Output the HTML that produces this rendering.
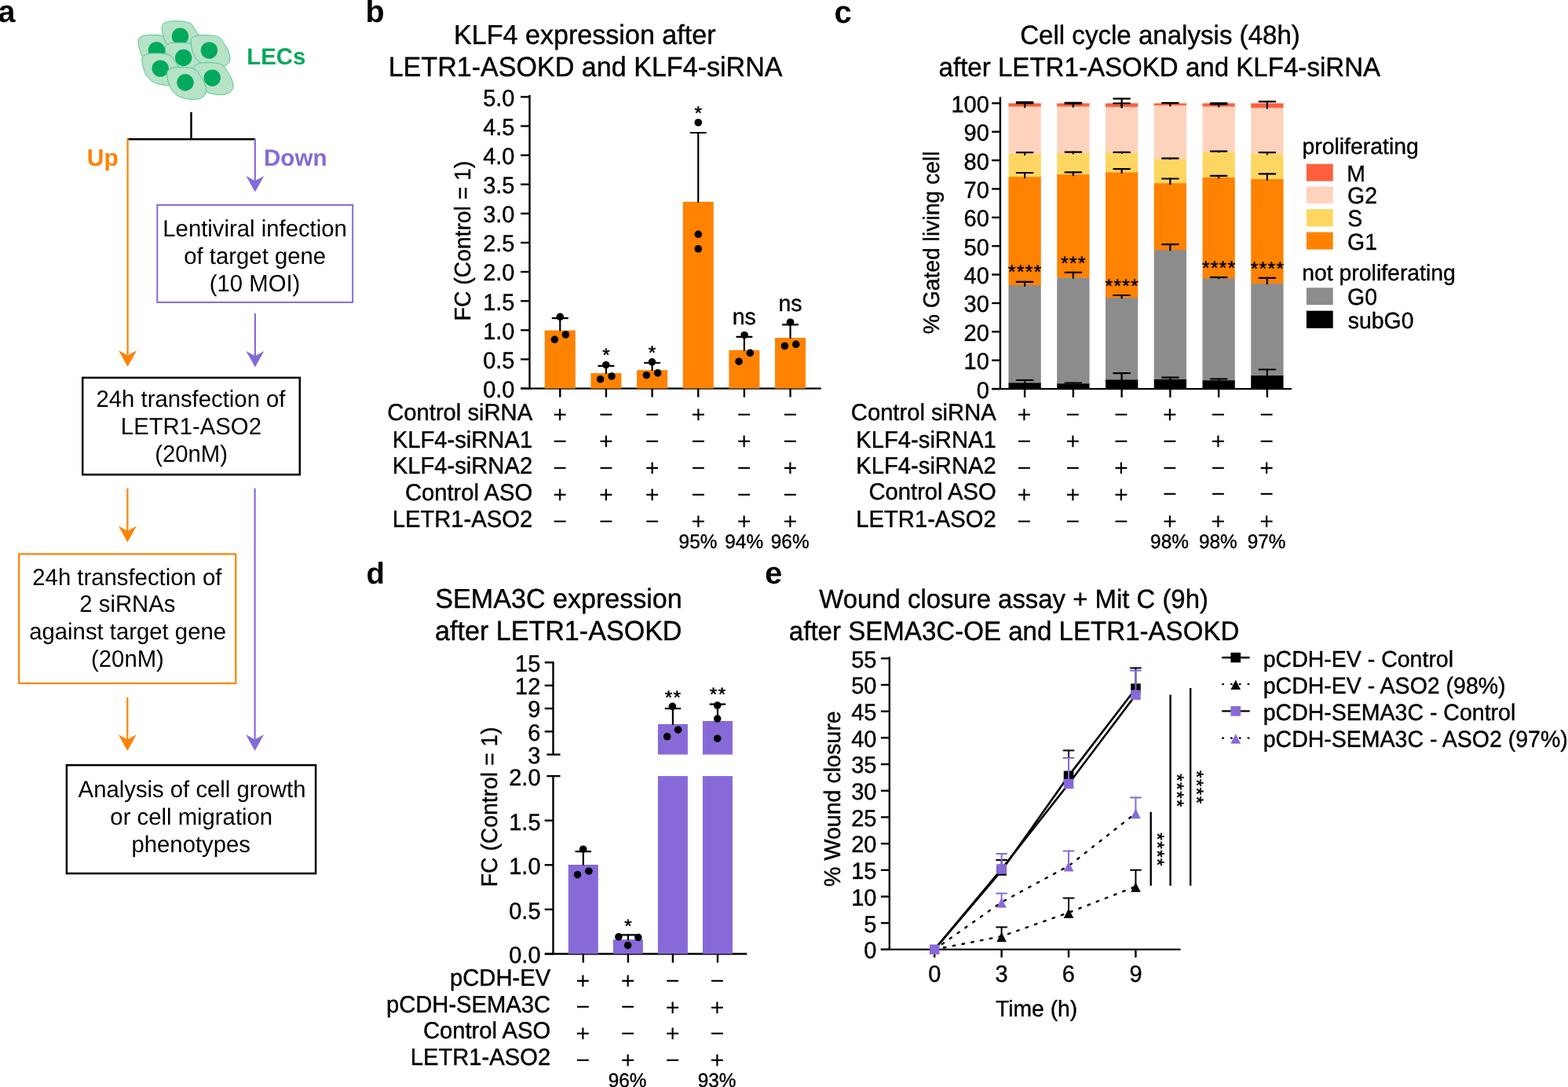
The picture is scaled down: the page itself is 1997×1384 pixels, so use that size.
<!DOCTYPE html>
<html><head><meta charset="utf-8"><title>Figure</title>
<style>html,body{margin:0;padding:0;background:#fff;width:1997px;height:1384px;overflow:hidden}svg{display:block}</style></head>
<body>
<svg xmlns="http://www.w3.org/2000/svg" width="1997" height="1384" viewBox="0 0 1997 1384" font-family='"Liberation Sans", Arial, Helvetica, sans-serif' text-rendering="geometricPrecision">
<style>text{stroke:#000;stroke-width:0.4px}text.st{stroke-width:0.5px}text[font-weight=bold],text.na{stroke-width:0}</style>
<rect width="1997" height="1384" fill="#fff"/>
<text x="-2.45" y="28" font-size="39.5" font-weight="bold">a</text>
<text x="465.6" y="28" font-size="39.5" font-weight="bold">b</text>
<text x="1062.5" y="28.5" font-size="40" font-weight="bold">c</text>
<text x="466.5" y="743" font-size="38.3" font-weight="bold">d</text>
<text x="974.2" y="743.3" font-size="39.5" font-weight="bold">e</text>
<g transform="translate(199.4 63.9)"><path d="M-22 -15.6 C-21 -16.7 -19.4 -17.5 -17.5 -18.1 C-15.6 -18.7 -13.9 -19.2 -10.3 -19.3 C-6.7 -19.4 0 -19.5 4 -18.9 C8 -18.3 11.1 -17.5 13.5 -15.9 C15.9 -14.3 16.6 -12 18.3 -9.5 C20 -7 22.4 -3.8 23.8 -0.8 C25.2 2.2 26.3 6 26.6 8.7 C26.9 11.3 26.2 13.4 25.4 15.1 C24.5 16.8 23.5 18 21.5 19.1 C19.5 20.2 16.8 21.2 13.5 21.5 C10.2 21.8 5.3 21.4 1.6 20.7 C-2.1 20 -5.6 19.2 -8.7 17.5 C-11.8 15.8 -14.7 12.8 -16.7 10.3 C-18.7 7.8 -19.7 5 -20.7 2.4 C-21.7 -0.2 -22.3 -3.3 -22.7 -5.6 C-23.1 -7.9 -23.4 -9.8 -23.3 -11.5 C-23.2 -13.2 -23 -14.5 -22 -15.6 Z" fill="#b6e3c8" stroke="#45c083" stroke-width="0.9"/><circle cx="0" cy="0" r="10.7" fill="#00a95c"/></g>
<g transform="translate(229.5 46.2)"><path d="M-22 -15.6 C-21 -16.7 -19.4 -17.5 -17.5 -18.1 C-15.6 -18.7 -13.9 -19.2 -10.3 -19.3 C-6.7 -19.4 0 -19.5 4 -18.9 C8 -18.3 11.1 -17.5 13.5 -15.9 C15.9 -14.3 16.6 -12 18.3 -9.5 C20 -7 22.4 -3.8 23.8 -0.8 C25.2 2.2 26.3 6 26.6 8.7 C26.9 11.3 26.2 13.4 25.4 15.1 C24.5 16.8 23.5 18 21.5 19.1 C19.5 20.2 16.8 21.2 13.5 21.5 C10.2 21.8 5.3 21.4 1.6 20.7 C-2.1 20 -5.6 19.2 -8.7 17.5 C-11.8 15.8 -14.7 12.8 -16.7 10.3 C-18.7 7.8 -19.7 5 -20.7 2.4 C-21.7 -0.2 -22.3 -3.3 -22.7 -5.6 C-23.1 -7.9 -23.4 -9.8 -23.3 -11.5 C-23.2 -13.2 -23 -14.5 -22 -15.6 Z" fill="#b6e3c8" stroke="#45c083" stroke-width="0.9"/><circle cx="0" cy="0" r="10.7" fill="#00a95c"/></g>
<g transform="translate(233.7 73.5)"><path d="M-22 -15.6 C-21 -16.7 -19.4 -17.5 -17.5 -18.1 C-15.6 -18.7 -13.9 -19.2 -10.3 -19.3 C-6.7 -19.4 0 -19.5 4 -18.9 C8 -18.3 11.1 -17.5 13.5 -15.9 C15.9 -14.3 16.6 -12 18.3 -9.5 C20 -7 22.4 -3.8 23.8 -0.8 C25.2 2.2 26.3 6 26.6 8.7 C26.9 11.3 26.2 13.4 25.4 15.1 C24.5 16.8 23.5 18 21.5 19.1 C19.5 20.2 16.8 21.2 13.5 21.5 C10.2 21.8 5.3 21.4 1.6 20.7 C-2.1 20 -5.6 19.2 -8.7 17.5 C-11.8 15.8 -14.7 12.8 -16.7 10.3 C-18.7 7.8 -19.7 5 -20.7 2.4 C-21.7 -0.2 -22.3 -3.3 -22.7 -5.6 C-23.1 -7.9 -23.4 -9.8 -23.3 -11.5 C-23.2 -13.2 -23 -14.5 -22 -15.6 Z" fill="#b6e3c8" stroke="#45c083" stroke-width="0.9"/><circle cx="0" cy="0" r="10.7" fill="#00a95c"/></g>
<g transform="translate(266.4 64.1)"><path d="M-22 -15.6 C-21 -16.7 -19.4 -17.5 -17.5 -18.1 C-15.6 -18.7 -13.9 -19.2 -10.3 -19.3 C-6.7 -19.4 0 -19.5 4 -18.9 C8 -18.3 11.1 -17.5 13.5 -15.9 C15.9 -14.3 16.6 -12 18.3 -9.5 C20 -7 22.4 -3.8 23.8 -0.8 C25.2 2.2 26.3 6 26.6 8.7 C26.9 11.3 26.2 13.4 25.4 15.1 C24.5 16.8 23.5 18 21.5 19.1 C19.5 20.2 16.8 21.2 13.5 21.5 C10.2 21.8 5.3 21.4 1.6 20.7 C-2.1 20 -5.6 19.2 -8.7 17.5 C-11.8 15.8 -14.7 12.8 -16.7 10.3 C-18.7 7.8 -19.7 5 -20.7 2.4 C-21.7 -0.2 -22.3 -3.3 -22.7 -5.6 C-23.1 -7.9 -23.4 -9.8 -23.3 -11.5 C-23.2 -13.2 -23 -14.5 -22 -15.6 Z" fill="#b6e3c8" stroke="#45c083" stroke-width="0.9"/><circle cx="0" cy="0" r="10.7" fill="#00a95c"/></g>
<g transform="translate(204.2 87.1)"><path d="M-22 -15.6 C-21 -16.7 -19.4 -17.5 -17.5 -18.1 C-15.6 -18.7 -13.9 -19.2 -10.3 -19.3 C-6.7 -19.4 0 -19.5 4 -18.9 C8 -18.3 11.1 -17.5 13.5 -15.9 C15.9 -14.3 16.6 -12 18.3 -9.5 C20 -7 22.4 -3.8 23.8 -0.8 C25.2 2.2 26.3 6 26.6 8.7 C26.9 11.3 26.2 13.4 25.4 15.1 C24.5 16.8 23.5 18 21.5 19.1 C19.5 20.2 16.8 21.2 13.5 21.5 C10.2 21.8 5.3 21.4 1.6 20.7 C-2.1 20 -5.6 19.2 -8.7 17.5 C-11.8 15.8 -14.7 12.8 -16.7 10.3 C-18.7 7.8 -19.7 5 -20.7 2.4 C-21.7 -0.2 -22.3 -3.3 -22.7 -5.6 C-23.1 -7.9 -23.4 -9.8 -23.3 -11.5 C-23.2 -13.2 -23 -14.5 -22 -15.6 Z" fill="#b6e3c8" stroke="#45c083" stroke-width="0.9"/><circle cx="0" cy="0" r="10.7" fill="#00a95c"/></g>
<g transform="translate(270.3 99.1)"><path d="M-22 -15.6 C-21 -16.7 -19.4 -17.5 -17.5 -18.1 C-15.6 -18.7 -13.9 -19.2 -10.3 -19.3 C-6.7 -19.4 0 -19.5 4 -18.9 C8 -18.3 11.1 -17.5 13.5 -15.9 C15.9 -14.3 16.6 -12 18.3 -9.5 C20 -7 22.4 -3.8 23.8 -0.8 C25.2 2.2 26.3 6 26.6 8.7 C26.9 11.3 26.2 13.4 25.4 15.1 C24.5 16.8 23.5 18 21.5 19.1 C19.5 20.2 16.8 21.2 13.5 21.5 C10.2 21.8 5.3 21.4 1.6 20.7 C-2.1 20 -5.6 19.2 -8.7 17.5 C-11.8 15.8 -14.7 12.8 -16.7 10.3 C-18.7 7.8 -19.7 5 -20.7 2.4 C-21.7 -0.2 -22.3 -3.3 -22.7 -5.6 C-23.1 -7.9 -23.4 -9.8 -23.3 -11.5 C-23.2 -13.2 -23 -14.5 -22 -15.6 Z" fill="#b6e3c8" stroke="#45c083" stroke-width="0.9"/><circle cx="0" cy="0" r="10.7" fill="#00a95c"/></g>
<g transform="translate(236 105)"><path d="M-22 -15.6 C-21 -16.7 -19.4 -17.5 -17.5 -18.1 C-15.6 -18.7 -13.9 -19.2 -10.3 -19.3 C-6.7 -19.4 0 -19.5 4 -18.9 C8 -18.3 11.1 -17.5 13.5 -15.9 C15.9 -14.3 16.6 -12 18.3 -9.5 C20 -7 22.4 -3.8 23.8 -0.8 C25.2 2.2 26.3 6 26.6 8.7 C26.9 11.3 26.2 13.4 25.4 15.1 C24.5 16.8 23.5 18 21.5 19.1 C19.5 20.2 16.8 21.2 13.5 21.5 C10.2 21.8 5.3 21.4 1.6 20.7 C-2.1 20 -5.6 19.2 -8.7 17.5 C-11.8 15.8 -14.7 12.8 -16.7 10.3 C-18.7 7.8 -19.7 5 -20.7 2.4 C-21.7 -0.2 -22.3 -3.3 -22.7 -5.6 C-23.1 -7.9 -23.4 -9.8 -23.3 -11.5 C-23.2 -13.2 -23 -14.5 -22 -15.6 Z" fill="#b6e3c8" stroke="#45c083" stroke-width="0.9"/><circle cx="0" cy="0" r="10.7" fill="#00a95c"/></g>
<text transform="translate(314.3 82.3) scale(1 1.01)" font-size="29.3" font-weight="bold" fill="#00a95c" style="stroke:#00a95c">LECs</text>
<line x1="243.5" y1="142.7" x2="243.5" y2="177.3" stroke="#000" stroke-width="2.5"/>
<line x1="162.2" y1="177.3" x2="324.8" y2="177.3" stroke="#000" stroke-width="2.5"/>
<line x1="162.6" y1="176.2" x2="162.6" y2="452" stroke="#ff8200" stroke-width="2.2"/>
<path d="M162.6 466.9 L151.1 446.2 L162.6 452.5 L174.1 446.2 Z" fill="#ff8200"/>
<line x1="324.8" y1="176.2" x2="324.8" y2="232" stroke="#876ad8" stroke-width="2.2"/>
<path d="M324.8 244.6 L313.3 223.9 L324.8 230.2 L336.3 223.9 Z" fill="#876ad8"/>
<text transform="translate(110.85 211.2) scale(1 1.01)" font-size="30" font-weight="bold" fill="#ff8200" style="stroke:#ff8200">Up</text>
<text transform="translate(336 211.2) scale(1 1.01)" font-size="29.6" font-weight="bold" fill="#876ad8" style="stroke:#876ad8">Down</text>
<rect x="200.3" y="261" width="248.9" height="123.9" fill="none" stroke="#876ad8" stroke-width="2"/>
<text transform="translate(207.3 300.7) scale(1 1.02)" font-size="29.3" class="na">Lentiviral infection</text>
<text transform="translate(234.3 335.6) scale(1 1.01)" font-size="29.3" class="na">of target gene</text>
<text transform="translate(266.8 370.5) scale(1 1.03)" font-size="29.3" class="na">(10 MOI)</text>
<line x1="324.9" y1="399" x2="324.9" y2="455" stroke="#876ad8" stroke-width="2.2"/>
<path d="M324.9 467.6 L313.4 446.9 L324.9 453.2 L336.4 446.9 Z" fill="#876ad8"/>
<rect x="105.2" y="480.9" width="276.6" height="123.4" fill="none" stroke="#000" stroke-width="2.5"/>
<text transform="translate(122.47 517.9) scale(1 1.02)" font-size="29.3" class="na">24h transfection of</text>
<text transform="translate(153.85 552.7) scale(1 1.03)" font-size="29.3" class="na">LETR1-ASO2</text>
<text transform="translate(197.22 588.1) scale(1 1.03)" font-size="29.3" class="na">(20nM)</text>
<line x1="162.4" y1="621.7" x2="162.4" y2="678" stroke="#ff8200" stroke-width="2.2"/>
<path d="M162.4 690.5 L150.9 669.8 L162.4 676.1 L173.9 669.8 Z" fill="#ff8200"/>
<line x1="324.6" y1="621.7" x2="324.6" y2="944" stroke="#876ad8" stroke-width="2.2"/>
<path d="M324.6 956 L313.1 935.3 L324.6 941.6 L336.1 935.3 Z" fill="#876ad8"/>
<rect x="24.2" y="705.4" width="276.1" height="164.6" fill="none" stroke="#ff8200" stroke-width="2.2"/>
<text transform="translate(41.32 744.6) scale(1 1.02)" font-size="29.3" class="na">24h transfection of</text>
<text transform="translate(101.32 779.4) scale(1 1.03)" font-size="29.3" class="na">2 siRNAs</text>
<text transform="translate(37.2 813.8) scale(1 1.01)" font-size="29.3" class="na">against target gene</text>
<text transform="translate(116.07 848.8) scale(1 1.03)" font-size="29.3" class="na">(20nM)</text>
<line x1="162.3" y1="887.9" x2="162.3" y2="944" stroke="#ff8200" stroke-width="2.2"/>
<path d="M162.3 956 L150.8 935.3 L162.3 941.6 L173.8 935.3 Z" fill="#ff8200"/>
<rect x="84.9" y="974.2" width="317.2" height="137.9" fill="none" stroke="#000" stroke-width="2.5"/>
<text transform="translate(99.6 1014.8) scale(1 1.02)" font-size="29.3" class="na">Analysis of cell growth</text>
<text transform="translate(140.35 1049.9) scale(1 1.01)" font-size="29.3" class="na">or cell migration</text>
<text transform="translate(167.47 1084.6) scale(1 1.01)" font-size="29.3" class="na">phenotypes</text>
<text transform="translate(578.12 55.85) scale(1 1.02)" font-size="34.1">KLF4 expression after</text>
<text transform="translate(494.67 96.95) scale(1 1.03)" font-size="34.1">LETR1-ASOKD and KLF4-siRNA</text>
<line x1="674.5" y1="121.1" x2="674.5" y2="495.63" stroke="#000" stroke-width="2.4"/>
<line x1="663.4" y1="494.63" x2="1045.8" y2="494.63" stroke="#000" stroke-width="2.4"/>
<line x1="663.1" y1="494.63" x2="674.5" y2="494.63" stroke="#000" stroke-width="2.4"/>
<text transform="translate(655.46 505.93) scale(1 1.03)" font-size="29" text-anchor="end">0.0</text>
<line x1="663.1" y1="457.5" x2="674.5" y2="457.5" stroke="#000" stroke-width="2.4"/>
<text transform="translate(655.46 468.81) scale(1 1.03)" font-size="29" text-anchor="end">0.5</text>
<line x1="663.1" y1="420.38" x2="674.5" y2="420.38" stroke="#000" stroke-width="2.4"/>
<text transform="translate(655.46 431.68) scale(1 1.03)" font-size="29" text-anchor="end">1.0</text>
<line x1="663.1" y1="383.25" x2="674.5" y2="383.25" stroke="#000" stroke-width="2.4"/>
<text transform="translate(655.46 394.56) scale(1 1.03)" font-size="29" text-anchor="end">1.5</text>
<line x1="663.1" y1="346.13" x2="674.5" y2="346.13" stroke="#000" stroke-width="2.4"/>
<text transform="translate(655.46 357.43) scale(1 1.03)" font-size="29" text-anchor="end">2.0</text>
<line x1="663.1" y1="309" x2="674.5" y2="309" stroke="#000" stroke-width="2.4"/>
<text transform="translate(655.46 320.31) scale(1 1.03)" font-size="29" text-anchor="end">2.5</text>
<line x1="663.1" y1="271.88" x2="674.5" y2="271.88" stroke="#000" stroke-width="2.4"/>
<text transform="translate(655.46 283.18) scale(1 1.03)" font-size="29" text-anchor="end">3.0</text>
<line x1="663.1" y1="234.75" x2="674.5" y2="234.75" stroke="#000" stroke-width="2.4"/>
<text transform="translate(655.46 246.06) scale(1 1.03)" font-size="29" text-anchor="end">3.5</text>
<line x1="663.1" y1="197.63" x2="674.5" y2="197.63" stroke="#000" stroke-width="2.4"/>
<text transform="translate(655.46 208.93) scale(1 1.03)" font-size="29" text-anchor="end">4.0</text>
<line x1="663.1" y1="160.5" x2="674.5" y2="160.5" stroke="#000" stroke-width="2.4"/>
<text transform="translate(655.46 171.81) scale(1 1.03)" font-size="29" text-anchor="end">4.5</text>
<line x1="663.1" y1="123.38" x2="674.5" y2="123.38" stroke="#000" stroke-width="2.4"/>
<text transform="translate(655.46 134.68) scale(1 1.03)" font-size="29" text-anchor="end">5.0</text>
<text transform="translate(599.1 408.4) rotate(-90) scale(1 1.02)" x="0" y="0" font-size="28.3">FC (Control = 1)</text>
<rect x="693.8" y="420.6" width="39" height="74.03" fill="#ff8200"/>
<line x1="713.3" y1="494.63" x2="713.3" y2="505.7" stroke="#000" stroke-width="2.4"/>
<rect x="752.45" y="475.1" width="39" height="19.53" fill="#ff8200"/>
<line x1="771.95" y1="494.63" x2="771.95" y2="505.7" stroke="#000" stroke-width="2.4"/>
<rect x="811.1" y="471.2" width="39" height="23.43" fill="#ff8200"/>
<line x1="830.6" y1="494.63" x2="830.6" y2="505.7" stroke="#000" stroke-width="2.4"/>
<rect x="869.75" y="257" width="39" height="237.63" fill="#ff8200"/>
<line x1="889.25" y1="494.63" x2="889.25" y2="505.7" stroke="#000" stroke-width="2.4"/>
<rect x="928.4" y="445.8" width="39" height="48.83" fill="#ff8200"/>
<line x1="947.9" y1="494.63" x2="947.9" y2="505.7" stroke="#000" stroke-width="2.4"/>
<rect x="987.05" y="430.1" width="39" height="64.53" fill="#ff8200"/>
<line x1="1006.55" y1="494.63" x2="1006.55" y2="505.7" stroke="#000" stroke-width="2.4"/>
<line x1="713.3" y1="420.6" x2="713.3" y2="405.2" stroke="#000" stroke-width="2.2" stroke-linecap="round"/>
<line x1="703.7" y1="405.2" x2="722.9" y2="405.2" stroke="#000" stroke-width="2.2" stroke-linecap="round"/>
<line x1="771.95" y1="475.1" x2="771.95" y2="465.9" stroke="#000" stroke-width="2.2" stroke-linecap="round"/>
<line x1="762.35" y1="465.9" x2="781.55" y2="465.9" stroke="#000" stroke-width="2.2" stroke-linecap="round"/>
<line x1="830.6" y1="471.2" x2="830.6" y2="462" stroke="#000" stroke-width="2.2" stroke-linecap="round"/>
<line x1="821" y1="462" x2="840.2" y2="462" stroke="#000" stroke-width="2.2" stroke-linecap="round"/>
<line x1="889.25" y1="257" x2="889.25" y2="169" stroke="#000" stroke-width="2.2" stroke-linecap="round"/>
<line x1="879.65" y1="169" x2="898.85" y2="169" stroke="#000" stroke-width="2.2" stroke-linecap="round"/>
<line x1="947.9" y1="445.8" x2="947.9" y2="428.8" stroke="#000" stroke-width="2.2" stroke-linecap="round"/>
<line x1="938.3" y1="428.8" x2="957.5" y2="428.8" stroke="#000" stroke-width="2.2" stroke-linecap="round"/>
<line x1="1006.55" y1="430.1" x2="1006.55" y2="413.3" stroke="#000" stroke-width="2.2" stroke-linecap="round"/>
<line x1="996.95" y1="413.3" x2="1016.15" y2="413.3" stroke="#000" stroke-width="2.2" stroke-linecap="round"/>
<circle cx="713.3" cy="403.3" r="4.8" fill="#000"/>
<circle cx="706.4" cy="432.3" r="4.8" fill="#000"/>
<circle cx="720.4" cy="426" r="4.8" fill="#000"/>
<circle cx="771.8" cy="464.7" r="4.8" fill="#000"/>
<circle cx="764.7" cy="482.8" r="4.8" fill="#000"/>
<circle cx="779" cy="479" r="4.8" fill="#000"/>
<circle cx="830.5" cy="460.9" r="4.8" fill="#000"/>
<circle cx="823.4" cy="477.7" r="4.8" fill="#000"/>
<circle cx="837.7" cy="474.9" r="4.8" fill="#000"/>
<circle cx="889.3" cy="156" r="4.8" fill="#000"/>
<circle cx="889.3" cy="298.3" r="4.8" fill="#000"/>
<circle cx="889.3" cy="316.8" r="4.8" fill="#000"/>
<circle cx="948.1" cy="426.7" r="4.8" fill="#000"/>
<circle cx="941.1" cy="460.2" r="4.8" fill="#000"/>
<circle cx="955.3" cy="449.4" r="4.8" fill="#000"/>
<circle cx="1006.5" cy="410.2" r="4.8" fill="#000"/>
<circle cx="999.4" cy="440.5" r="4.8" fill="#000"/>
<circle cx="1013.7" cy="438.4" r="4.8" fill="#000"/>
<text class="st" transform="translate(767.2 460.38) scale(1 0.97)" x="0" y="0" font-size="24.5" letter-spacing="1.37">*</text>
<text class="st" transform="translate(825.85 456.67) scale(1 0.97)" x="0" y="0" font-size="24.5" letter-spacing="1.37">*</text>
<text class="st" transform="translate(884.5 151.88) scale(1 0.97)" x="0" y="0" font-size="24.5" letter-spacing="1.37">*</text>
<text transform="translate(932.7 413.1) scale(1 1.01)" font-size="28.5">ns</text>
<text transform="translate(991.5 396.3) scale(1 1.01)" font-size="28.5">ns</text>
<text transform="translate(678.13 535.4) scale(1 1.02)" font-size="29.2" text-anchor="end">Control siRNA</text>
<text x="704.33" y="538.25" font-size="30.5" class="na">+</text>
<text x="763.02" y="538.12" font-size="30.5" class="na">−</text>
<text x="821.73" y="538.12" font-size="30.5" class="na">−</text>
<text x="880.62" y="538.25" font-size="30.5" class="na">+</text>
<text x="938.73" y="538.12" font-size="30.5" class="na">−</text>
<text x="997.42" y="538.12" font-size="30.5" class="na">−</text>
<text transform="translate(678.13 569.7) scale(1 1.03)" font-size="29.2" text-anchor="end">KLF4-siRNA1</text>
<text x="704.33" y="572.12" font-size="30.5" class="na">−</text>
<text x="763.02" y="572.25" font-size="30.5" class="na">+</text>
<text x="821.73" y="572.12" font-size="30.5" class="na">−</text>
<text x="880.62" y="572.12" font-size="30.5" class="na">−</text>
<text x="938.73" y="572.25" font-size="30.5" class="na">+</text>
<text x="997.42" y="572.12" font-size="30.5" class="na">−</text>
<text transform="translate(678.13 603.1) scale(1 1.03)" font-size="29.2" text-anchor="end">KLF4-siRNA2</text>
<text x="704.33" y="606.23" font-size="30.5" class="na">−</text>
<text x="763.02" y="606.23" font-size="30.5" class="na">−</text>
<text x="821.73" y="606.35" font-size="30.5" class="na">+</text>
<text x="880.62" y="606.23" font-size="30.5" class="na">−</text>
<text x="938.73" y="606.23" font-size="30.5" class="na">−</text>
<text x="997.42" y="606.35" font-size="30.5" class="na">+</text>
<text transform="translate(678.13 636.5) scale(1 1.02)" font-size="29.2" text-anchor="end">Control ASO</text>
<text x="704.33" y="640.25" font-size="30.5" class="na">+</text>
<text x="763.02" y="640.25" font-size="30.5" class="na">+</text>
<text x="821.73" y="640.25" font-size="30.5" class="na">+</text>
<text x="880.62" y="640.12" font-size="30.5" class="na">−</text>
<text x="938.73" y="640.12" font-size="30.5" class="na">−</text>
<text x="997.42" y="640.12" font-size="30.5" class="na">−</text>
<text transform="translate(678.13 670.8) scale(1 1.03)" font-size="29.2" text-anchor="end">LETR1-ASO2</text>
<text x="704.33" y="673.92" font-size="30.5" class="na">−</text>
<text x="763.02" y="673.92" font-size="30.5" class="na">−</text>
<text x="821.73" y="673.92" font-size="30.5" class="na">−</text>
<text x="880.62" y="674.05" font-size="30.5" class="na">+</text>
<text x="938.73" y="674.05" font-size="30.5" class="na">+</text>
<text x="997.42" y="674.05" font-size="30.5" class="na">+</text>
<text transform="translate(864.62 697.5) scale(1 1.03)" font-size="24.4">95%</text>
<text transform="translate(923.27 697.5) scale(1 1.03)" font-size="24.4">94%</text>
<text transform="translate(981.77 697.5) scale(1 1.03)" font-size="24.4">96%</text>
<text transform="translate(1299.2 55.9) scale(1 1.02)" font-size="33.1">Cell cycle analysis (48h)</text>
<text transform="translate(1195.58 97) scale(1 1.03)" font-size="33.1">after LETR1-ASOKD and KLF4-siRNA</text>
<line x1="1273.9" y1="123.6" x2="1273.9" y2="496.1" stroke="#000" stroke-width="2.4"/>
<line x1="1263" y1="495.1" x2="1645" y2="495.1" stroke="#000" stroke-width="2.4"/>
<line x1="1263.2" y1="495.1" x2="1273.9" y2="495.1" stroke="#000" stroke-width="2.4"/>
<text transform="translate(1259.84 506.5) scale(1 1.03)" font-size="29" text-anchor="end">0</text>
<line x1="1263.2" y1="458.73" x2="1273.9" y2="458.73" stroke="#000" stroke-width="2.4"/>
<text transform="translate(1259.84 470.13) scale(1 1.03)" font-size="29" text-anchor="end">10</text>
<line x1="1263.2" y1="422.36" x2="1273.9" y2="422.36" stroke="#000" stroke-width="2.4"/>
<text transform="translate(1259.84 433.76) scale(1 1.03)" font-size="29" text-anchor="end">20</text>
<line x1="1263.2" y1="385.99" x2="1273.9" y2="385.99" stroke="#000" stroke-width="2.4"/>
<text transform="translate(1259.84 397.39) scale(1 1.03)" font-size="29" text-anchor="end">30</text>
<line x1="1263.2" y1="349.62" x2="1273.9" y2="349.62" stroke="#000" stroke-width="2.4"/>
<text transform="translate(1259.84 361.02) scale(1 1.03)" font-size="29" text-anchor="end">40</text>
<line x1="1263.2" y1="313.25" x2="1273.9" y2="313.25" stroke="#000" stroke-width="2.4"/>
<text transform="translate(1259.84 324.65) scale(1 1.03)" font-size="29" text-anchor="end">50</text>
<line x1="1263.2" y1="276.88" x2="1273.9" y2="276.88" stroke="#000" stroke-width="2.4"/>
<text transform="translate(1259.84 288.28) scale(1 1.03)" font-size="29" text-anchor="end">60</text>
<line x1="1263.2" y1="240.51" x2="1273.9" y2="240.51" stroke="#000" stroke-width="2.4"/>
<text transform="translate(1259.84 251.91) scale(1 1.03)" font-size="29" text-anchor="end">70</text>
<line x1="1263.2" y1="204.14" x2="1273.9" y2="204.14" stroke="#000" stroke-width="2.4"/>
<text transform="translate(1259.84 215.54) scale(1 1.03)" font-size="29" text-anchor="end">80</text>
<line x1="1263.2" y1="167.77" x2="1273.9" y2="167.77" stroke="#000" stroke-width="2.4"/>
<text transform="translate(1259.84 179.17) scale(1 1.03)" font-size="29" text-anchor="end">90</text>
<line x1="1263.2" y1="131.4" x2="1273.9" y2="131.4" stroke="#000" stroke-width="2.4"/>
<text transform="translate(1259.84 142.8) scale(1 1.03)" font-size="29" text-anchor="end">100</text>
<text transform="translate(1195.8 425.35) rotate(-90) scale(1 1.02)" x="0" y="0" font-size="28.3">% Gated living cell</text>
<rect x="1284.45" y="487.1" width="41.3" height="8.3" fill="#000"/>
<rect x="1284.45" y="363" width="41.3" height="124.4" fill="#8c8c8c"/>
<rect x="1284.45" y="224.9" width="41.3" height="138.4" fill="#ff8200"/>
<rect x="1284.45" y="195.6" width="41.3" height="29.6" fill="#fdd662"/>
<rect x="1284.45" y="135.4" width="41.3" height="60.5" fill="#fed3bd"/>
<rect x="1284.45" y="131.5" width="41.3" height="4.2" fill="#ff5f3c"/>
<line x1="1305.1" y1="495.1" x2="1305.1" y2="506" stroke="#000" stroke-width="2.4"/>
<rect x="1346.21" y="488.1" width="41.3" height="7.3" fill="#000"/>
<rect x="1346.21" y="353.2" width="41.3" height="135.2" fill="#8c8c8c"/>
<rect x="1346.21" y="221.9" width="41.3" height="131.6" fill="#ff8200"/>
<rect x="1346.21" y="194.7" width="41.3" height="27.5" fill="#fdd662"/>
<rect x="1346.21" y="135.4" width="41.3" height="59.6" fill="#fed3bd"/>
<rect x="1346.21" y="131.5" width="41.3" height="4.2" fill="#ff5f3c"/>
<line x1="1366.86" y1="495.1" x2="1366.86" y2="506" stroke="#000" stroke-width="2.4"/>
<rect x="1407.97" y="483.1" width="41.3" height="12.3" fill="#000"/>
<rect x="1407.97" y="378.7" width="41.3" height="104.7" fill="#8c8c8c"/>
<rect x="1407.97" y="219.1" width="41.3" height="159.9" fill="#ff8200"/>
<rect x="1407.97" y="194.1" width="41.3" height="25.3" fill="#fdd662"/>
<rect x="1407.97" y="135.9" width="41.3" height="58.5" fill="#fed3bd"/>
<rect x="1407.97" y="131.5" width="41.3" height="4.7" fill="#ff5f3c"/>
<line x1="1428.62" y1="495.1" x2="1428.62" y2="506" stroke="#000" stroke-width="2.4"/>
<rect x="1469.73" y="482.5" width="41.3" height="12.9" fill="#000"/>
<rect x="1469.73" y="318" width="41.3" height="164.8" fill="#8c8c8c"/>
<rect x="1469.73" y="233" width="41.3" height="85.3" fill="#ff8200"/>
<rect x="1469.73" y="202.1" width="41.3" height="31.2" fill="#fdd662"/>
<rect x="1469.73" y="133.9" width="41.3" height="68.5" fill="#fed3bd"/>
<rect x="1469.73" y="131.5" width="41.3" height="2.7" fill="#ff5f3c"/>
<line x1="1490.38" y1="495.1" x2="1490.38" y2="506" stroke="#000" stroke-width="2.4"/>
<rect x="1531.49" y="484" width="41.3" height="11.4" fill="#000"/>
<rect x="1531.49" y="354.1" width="41.3" height="130.2" fill="#8c8c8c"/>
<rect x="1531.49" y="225.4" width="41.3" height="129" fill="#ff8200"/>
<rect x="1531.49" y="193.2" width="41.3" height="32.5" fill="#fdd662"/>
<rect x="1531.49" y="135.4" width="41.3" height="58.1" fill="#fed3bd"/>
<rect x="1531.49" y="131.5" width="41.3" height="4.2" fill="#ff5f3c"/>
<line x1="1552.14" y1="495.1" x2="1552.14" y2="506" stroke="#000" stroke-width="2.4"/>
<rect x="1593.25" y="477.9" width="41.3" height="17.5" fill="#000"/>
<rect x="1593.25" y="360.6" width="41.3" height="117.6" fill="#8c8c8c"/>
<rect x="1593.25" y="227.8" width="41.3" height="133.1" fill="#ff8200"/>
<rect x="1593.25" y="195.4" width="41.3" height="32.7" fill="#fdd662"/>
<rect x="1593.25" y="137" width="41.3" height="58.7" fill="#fed3bd"/>
<rect x="1593.25" y="131.5" width="41.3" height="5.8" fill="#ff5f3c"/>
<line x1="1613.9" y1="495.1" x2="1613.9" y2="506" stroke="#000" stroke-width="2.4"/>
<line x1="1305.1" y1="136.3" x2="1305.1" y2="130.2" stroke="#000" stroke-width="2.2" stroke-linecap="round"/>
<line x1="1294.8" y1="130.2" x2="1315.4" y2="130.2" stroke="#000" stroke-width="2.2" stroke-linecap="round"/>
<line x1="1305.1" y1="136.3" x2="1305.1" y2="131.4" stroke="#000" stroke-width="2.2" stroke-linecap="round"/>
<line x1="1294.8" y1="131.4" x2="1315.4" y2="131.4" stroke="#000" stroke-width="2.2" stroke-linecap="round"/>
<line x1="1305.1" y1="196.9" x2="1305.1" y2="194.1" stroke="#000" stroke-width="2.2" stroke-linecap="round"/>
<line x1="1294.8" y1="194.1" x2="1315.4" y2="194.1" stroke="#000" stroke-width="2.2" stroke-linecap="round"/>
<line x1="1305.1" y1="226" x2="1305.1" y2="220" stroke="#000" stroke-width="2.2" stroke-linecap="round"/>
<line x1="1294.8" y1="220" x2="1315.4" y2="220" stroke="#000" stroke-width="2.2" stroke-linecap="round"/>
<line x1="1305.1" y1="363.9" x2="1305.1" y2="358.9" stroke="#000" stroke-width="2.2" stroke-linecap="round"/>
<line x1="1294.8" y1="358.9" x2="1315.4" y2="358.9" stroke="#000" stroke-width="2.2" stroke-linecap="round"/>
<line x1="1305.1" y1="489" x2="1305.1" y2="484" stroke="#000" stroke-width="2.2" stroke-linecap="round"/>
<line x1="1294.8" y1="484" x2="1315.4" y2="484" stroke="#000" stroke-width="2.2" stroke-linecap="round"/>
<line x1="1366.86" y1="136" x2="1366.86" y2="130.8" stroke="#000" stroke-width="2.2" stroke-linecap="round"/>
<line x1="1356.56" y1="130.8" x2="1377.16" y2="130.8" stroke="#000" stroke-width="2.2" stroke-linecap="round"/>
<line x1="1366.86" y1="136" x2="1366.86" y2="132" stroke="#000" stroke-width="2.2" stroke-linecap="round"/>
<line x1="1356.56" y1="132" x2="1377.16" y2="132" stroke="#000" stroke-width="2.2" stroke-linecap="round"/>
<line x1="1366.86" y1="195.5" x2="1366.86" y2="193.7" stroke="#000" stroke-width="2.2" stroke-linecap="round"/>
<line x1="1356.56" y1="193.7" x2="1377.16" y2="193.7" stroke="#000" stroke-width="2.2" stroke-linecap="round"/>
<line x1="1366.86" y1="223.2" x2="1366.86" y2="219.3" stroke="#000" stroke-width="2.2" stroke-linecap="round"/>
<line x1="1356.56" y1="219.3" x2="1377.16" y2="219.3" stroke="#000" stroke-width="2.2" stroke-linecap="round"/>
<line x1="1366.86" y1="353.7" x2="1366.86" y2="346.9" stroke="#000" stroke-width="2.2" stroke-linecap="round"/>
<line x1="1356.56" y1="346.9" x2="1377.16" y2="346.9" stroke="#000" stroke-width="2.2" stroke-linecap="round"/>
<line x1="1366.86" y1="489" x2="1366.86" y2="487.5" stroke="#000" stroke-width="2.2" stroke-linecap="round"/>
<line x1="1356.56" y1="487.5" x2="1377.16" y2="487.5" stroke="#000" stroke-width="2.2" stroke-linecap="round"/>
<line x1="1428.62" y1="136.7" x2="1428.62" y2="125.6" stroke="#000" stroke-width="2.2" stroke-linecap="round"/>
<line x1="1418.32" y1="125.6" x2="1438.92" y2="125.6" stroke="#000" stroke-width="2.2" stroke-linecap="round"/>
<line x1="1428.62" y1="136.7" x2="1428.62" y2="131.5" stroke="#000" stroke-width="2.2" stroke-linecap="round"/>
<line x1="1418.32" y1="131.5" x2="1438.92" y2="131.5" stroke="#000" stroke-width="2.2" stroke-linecap="round"/>
<line x1="1428.62" y1="195" x2="1428.62" y2="193.9" stroke="#000" stroke-width="2.2" stroke-linecap="round"/>
<line x1="1418.32" y1="193.9" x2="1438.92" y2="193.9" stroke="#000" stroke-width="2.2" stroke-linecap="round"/>
<line x1="1428.62" y1="220" x2="1428.62" y2="215.1" stroke="#000" stroke-width="2.2" stroke-linecap="round"/>
<line x1="1418.32" y1="215.1" x2="1438.92" y2="215.1" stroke="#000" stroke-width="2.2" stroke-linecap="round"/>
<line x1="1428.62" y1="379.5" x2="1428.62" y2="376" stroke="#000" stroke-width="2.2" stroke-linecap="round"/>
<line x1="1418.32" y1="376" x2="1438.92" y2="376" stroke="#000" stroke-width="2.2" stroke-linecap="round"/>
<line x1="1428.62" y1="484" x2="1428.62" y2="475.1" stroke="#000" stroke-width="2.2" stroke-linecap="round"/>
<line x1="1418.32" y1="475.1" x2="1438.92" y2="475.1" stroke="#000" stroke-width="2.2" stroke-linecap="round"/>
<line x1="1490.38" y1="134.8" x2="1490.38" y2="131.1" stroke="#000" stroke-width="2.2" stroke-linecap="round"/>
<line x1="1480.08" y1="131.1" x2="1500.68" y2="131.1" stroke="#000" stroke-width="2.2" stroke-linecap="round"/>
<line x1="1490.38" y1="202.5" x2="1490.38" y2="201.7" stroke="#000" stroke-width="2.2" stroke-linecap="round"/>
<line x1="1480.08" y1="201.7" x2="1500.68" y2="201.7" stroke="#000" stroke-width="2.2" stroke-linecap="round"/>
<line x1="1490.38" y1="234.5" x2="1490.38" y2="227.5" stroke="#000" stroke-width="2.2" stroke-linecap="round"/>
<line x1="1480.08" y1="227.5" x2="1500.68" y2="227.5" stroke="#000" stroke-width="2.2" stroke-linecap="round"/>
<line x1="1490.38" y1="318.5" x2="1490.38" y2="311.1" stroke="#000" stroke-width="2.2" stroke-linecap="round"/>
<line x1="1480.08" y1="311.1" x2="1500.68" y2="311.1" stroke="#000" stroke-width="2.2" stroke-linecap="round"/>
<line x1="1490.38" y1="483" x2="1490.38" y2="480.7" stroke="#000" stroke-width="2.2" stroke-linecap="round"/>
<line x1="1480.08" y1="480.7" x2="1500.68" y2="480.7" stroke="#000" stroke-width="2.2" stroke-linecap="round"/>
<line x1="1552.14" y1="135.5" x2="1552.14" y2="131.4" stroke="#000" stroke-width="2.2" stroke-linecap="round"/>
<line x1="1541.84" y1="131.4" x2="1562.44" y2="131.4" stroke="#000" stroke-width="2.2" stroke-linecap="round"/>
<line x1="1552.14" y1="135.5" x2="1552.14" y2="132.6" stroke="#000" stroke-width="2.2" stroke-linecap="round"/>
<line x1="1541.84" y1="132.6" x2="1562.44" y2="132.6" stroke="#000" stroke-width="2.2" stroke-linecap="round"/>
<line x1="1552.14" y1="193.5" x2="1552.14" y2="192.6" stroke="#000" stroke-width="2.2" stroke-linecap="round"/>
<line x1="1541.84" y1="192.6" x2="1562.44" y2="192.6" stroke="#000" stroke-width="2.2" stroke-linecap="round"/>
<line x1="1552.14" y1="226.5" x2="1552.14" y2="223.8" stroke="#000" stroke-width="2.2" stroke-linecap="round"/>
<line x1="1541.84" y1="223.8" x2="1562.44" y2="223.8" stroke="#000" stroke-width="2.2" stroke-linecap="round"/>
<line x1="1552.14" y1="354.5" x2="1552.14" y2="353.2" stroke="#000" stroke-width="2.2" stroke-linecap="round"/>
<line x1="1541.84" y1="353.2" x2="1562.44" y2="353.2" stroke="#000" stroke-width="2.2" stroke-linecap="round"/>
<line x1="1552.14" y1="484" x2="1552.14" y2="482.5" stroke="#000" stroke-width="2.2" stroke-linecap="round"/>
<line x1="1541.84" y1="482.5" x2="1562.44" y2="482.5" stroke="#000" stroke-width="2.2" stroke-linecap="round"/>
<line x1="1613.9" y1="138" x2="1613.9" y2="129.3" stroke="#000" stroke-width="2.2" stroke-linecap="round"/>
<line x1="1603.6" y1="129.3" x2="1624.2" y2="129.3" stroke="#000" stroke-width="2.2" stroke-linecap="round"/>
<line x1="1613.9" y1="196.5" x2="1613.9" y2="194.1" stroke="#000" stroke-width="2.2" stroke-linecap="round"/>
<line x1="1603.6" y1="194.1" x2="1624.2" y2="194.1" stroke="#000" stroke-width="2.2" stroke-linecap="round"/>
<line x1="1613.9" y1="229" x2="1613.9" y2="221.4" stroke="#000" stroke-width="2.2" stroke-linecap="round"/>
<line x1="1603.6" y1="221.4" x2="1624.2" y2="221.4" stroke="#000" stroke-width="2.2" stroke-linecap="round"/>
<line x1="1613.9" y1="361.1" x2="1613.9" y2="353.9" stroke="#000" stroke-width="2.2" stroke-linecap="round"/>
<line x1="1603.6" y1="353.9" x2="1624.2" y2="353.9" stroke="#000" stroke-width="2.2" stroke-linecap="round"/>
<line x1="1613.9" y1="478" x2="1613.9" y2="470.5" stroke="#000" stroke-width="2.2" stroke-linecap="round"/>
<line x1="1603.6" y1="470.5" x2="1624.2" y2="470.5" stroke="#000" stroke-width="2.2" stroke-linecap="round"/>
<text class="st" transform="translate(1284 354.48) scale(1 0.97)" x="0" y="0" font-size="24.5" letter-spacing="1.37">****</text>
<text class="st" transform="translate(1351.21 342.68) scale(1 0.97)" x="0" y="0" font-size="24.5" letter-spacing="1.37">***</text>
<text class="st" transform="translate(1407.52 371.88) scale(1 0.97)" x="0" y="0" font-size="24.5" letter-spacing="1.37">****</text>
<text class="st" transform="translate(1531.04 348.73) scale(1 0.97)" x="0" y="0" font-size="24.5" letter-spacing="1.37">****</text>
<text class="st" transform="translate(1592.8 349.67) scale(1 0.97)" x="0" y="0" font-size="24.5" letter-spacing="1.37">****</text>
<text transform="translate(1658.45 195.5) scale(1 1.01)" font-size="28.4">proliferating</text>
<text transform="translate(1658.2 357) scale(1 1.01)" font-size="28.4">not proliferating</text>
<rect x="1663.9" y="208.8" width="33.8" height="21.8" fill="#ff5f3c"/>
<text transform="translate(1715.35 230.6) scale(1 1.03)" font-size="28.4">M</text>
<rect x="1663.9" y="237.4" width="33.8" height="21.7" fill="#fed3bd"/>
<text transform="translate(1716.1 259.1) scale(1 1.03)" font-size="28.4">G2</text>
<rect x="1663.9" y="266.3" width="33.8" height="22.1" fill="#fdd662"/>
<text transform="translate(1716.35 288.4) scale(1 1.03)" font-size="28.4">S</text>
<rect x="1663.9" y="295.6" width="33.8" height="22" fill="#ff8200"/>
<text transform="translate(1716.1 317.6) scale(1 1.03)" font-size="28.4">G1</text>
<rect x="1663.9" y="366.4" width="33.8" height="21.8" fill="#8c8c8c"/>
<text transform="translate(1716.1 388.2) scale(1 1.03)" font-size="28.4">G0</text>
<rect x="1663.9" y="395.7" width="33.8" height="22.2" fill="#000"/>
<text transform="translate(1716.85 417.9) scale(1 1.02)" font-size="28.4">subG0</text>
<text transform="translate(1268.73 535.2) scale(1 1.02)" font-size="29.2" text-anchor="end">Control siRNA</text>
<text x="1295.62" y="538.45" font-size="30.5" class="na">+</text>
<text x="1357.42" y="538.33" font-size="30.5" class="na">−</text>
<text x="1419.03" y="538.33" font-size="30.5" class="na">−</text>
<text x="1480.92" y="538.45" font-size="30.5" class="na">+</text>
<text x="1542.42" y="538.33" font-size="30.5" class="na">−</text>
<text x="1604.33" y="538.33" font-size="30.5" class="na">−</text>
<text transform="translate(1268.73 569.5) scale(1 1.03)" font-size="29.2" text-anchor="end">KLF4-siRNA1</text>
<text x="1295.62" y="571.92" font-size="30.5" class="na">−</text>
<text x="1357.42" y="572.05" font-size="30.5" class="na">+</text>
<text x="1419.03" y="571.92" font-size="30.5" class="na">−</text>
<text x="1480.92" y="571.92" font-size="30.5" class="na">−</text>
<text x="1542.42" y="572.05" font-size="30.5" class="na">+</text>
<text x="1604.33" y="571.92" font-size="30.5" class="na">−</text>
<text transform="translate(1268.73 603) scale(1 1.03)" font-size="29.2" text-anchor="end">KLF4-siRNA2</text>
<text x="1295.62" y="605.62" font-size="30.5" class="na">−</text>
<text x="1357.42" y="605.62" font-size="30.5" class="na">−</text>
<text x="1419.03" y="605.75" font-size="30.5" class="na">+</text>
<text x="1480.92" y="605.62" font-size="30.5" class="na">−</text>
<text x="1542.42" y="605.62" font-size="30.5" class="na">−</text>
<text x="1604.33" y="605.75" font-size="30.5" class="na">+</text>
<text transform="translate(1268.73 636.4) scale(1 1.02)" font-size="29.2" text-anchor="end">Control ASO</text>
<text x="1295.62" y="639.55" font-size="30.5" class="na">+</text>
<text x="1357.42" y="639.55" font-size="30.5" class="na">+</text>
<text x="1419.03" y="639.55" font-size="30.5" class="na">+</text>
<text x="1480.92" y="639.42" font-size="30.5" class="na">−</text>
<text x="1542.42" y="639.42" font-size="30.5" class="na">−</text>
<text x="1604.33" y="639.42" font-size="30.5" class="na">−</text>
<text transform="translate(1268.73 670.6) scale(1 1.03)" font-size="29.2" text-anchor="end">LETR1-ASO2</text>
<text x="1295.62" y="673.62" font-size="30.5" class="na">−</text>
<text x="1357.42" y="673.62" font-size="30.5" class="na">−</text>
<text x="1419.03" y="673.62" font-size="30.5" class="na">−</text>
<text x="1480.92" y="673.75" font-size="30.5" class="na">+</text>
<text x="1542.42" y="673.75" font-size="30.5" class="na">+</text>
<text x="1604.33" y="673.75" font-size="30.5" class="na">+</text>
<text transform="translate(1465.12 697.5) scale(1 1.03)" font-size="24.4">98%</text>
<text transform="translate(1526.97 697.5) scale(1 1.03)" font-size="24.4">98%</text>
<text transform="translate(1588.72 697.5) scale(1 1.03)" font-size="24.4">97%</text>
<text transform="translate(554.35 773.8) scale(1 1.02)" font-size="34.1">SEMA3C expression</text>
<text transform="translate(554.1 814.6) scale(1 1.03)" font-size="34.1">after LETR1-ASOKD</text>
<line x1="704.5" y1="842.5" x2="704.5" y2="960.7" stroke="#000" stroke-width="2.4"/>
<line x1="693.7" y1="843.46" x2="704.5" y2="843.46" stroke="#000" stroke-width="2.4"/>
<text transform="translate(688.31 854.66) scale(1 1.03)" font-size="29" text-anchor="end">15</text>
<line x1="693.7" y1="872.77" x2="704.5" y2="872.77" stroke="#000" stroke-width="2.4"/>
<text transform="translate(688.31 883.97) scale(1 1.03)" font-size="29" text-anchor="end">12</text>
<line x1="693.7" y1="902.08" x2="704.5" y2="902.08" stroke="#000" stroke-width="2.4"/>
<text transform="translate(688.31 913.28) scale(1 1.03)" font-size="29" text-anchor="end">9</text>
<line x1="693.7" y1="931.39" x2="704.5" y2="931.39" stroke="#000" stroke-width="2.4"/>
<text transform="translate(688.31 942.59) scale(1 1.03)" font-size="29" text-anchor="end">6</text>
<text transform="translate(688.31 971.9) scale(1 1.03)" font-size="29" text-anchor="end">3</text>
<line x1="696.4" y1="960.7" x2="713.6" y2="960.7" stroke="#000" stroke-width="2.4"/>
<line x1="696.4" y1="988.1" x2="713.6" y2="988.1" stroke="#000" stroke-width="2.4"/>
<line x1="704.5" y1="987.1" x2="704.5" y2="1215.5" stroke="#000" stroke-width="2.4"/>
<line x1="693.9" y1="1214.5" x2="951.3" y2="1214.5" stroke="#000" stroke-width="2.4"/>
<line x1="693.7" y1="1214.5" x2="704.5" y2="1214.5" stroke="#000" stroke-width="2.4"/>
<text transform="translate(688.56 1226.4) scale(1 1.03)" font-size="29" text-anchor="end">0.0</text>
<line x1="693.7" y1="1157.9" x2="704.5" y2="1157.9" stroke="#000" stroke-width="2.4"/>
<text transform="translate(688.56 1169.8) scale(1 1.03)" font-size="29" text-anchor="end">0.5</text>
<line x1="693.7" y1="1101.3" x2="704.5" y2="1101.3" stroke="#000" stroke-width="2.4"/>
<text transform="translate(688.56 1113.2) scale(1 1.03)" font-size="29" text-anchor="end">1.0</text>
<line x1="693.7" y1="1044.7" x2="704.5" y2="1044.7" stroke="#000" stroke-width="2.4"/>
<text transform="translate(688.56 1056.6) scale(1 1.03)" font-size="29" text-anchor="end">1.5</text>
<text transform="translate(688.56 1000) scale(1 1.03)" font-size="29" text-anchor="end">2.0</text>
<text transform="translate(633.4 1129.2) rotate(-90) scale(1 1.02)" x="0" y="0" font-size="28.3">FC (Control = 1)</text>
<rect x="723.8" y="1101" width="38" height="113.5" fill="#876ad8"/>
<rect x="780.9" y="1196.2" width="38" height="18.3" fill="#876ad8"/>
<rect x="837.9" y="988.1" width="38" height="226.4" fill="#876ad8"/>
<rect x="894.95" y="988.1" width="38" height="226.4" fill="#876ad8"/>
<rect x="837.9" y="922" width="38" height="38.7" fill="#876ad8"/>
<rect x="894.95" y="918" width="38" height="42.7" fill="#876ad8"/>
<line x1="742.8" y1="1214.5" x2="742.8" y2="1225.7" stroke="#000" stroke-width="2.4"/>
<line x1="799.9" y1="1214.5" x2="799.9" y2="1225.7" stroke="#000" stroke-width="2.4"/>
<line x1="856.9" y1="1214.5" x2="856.9" y2="1225.7" stroke="#000" stroke-width="2.4"/>
<line x1="913.95" y1="1214.5" x2="913.95" y2="1225.7" stroke="#000" stroke-width="2.4"/>
<line x1="742.8" y1="1101" x2="742.8" y2="1084.2" stroke="#000" stroke-width="2.2" stroke-linecap="round"/>
<line x1="733.5" y1="1084.2" x2="752.1" y2="1084.2" stroke="#000" stroke-width="2.2" stroke-linecap="round"/>
<line x1="799.9" y1="1196.2" x2="799.9" y2="1190.4" stroke="#000" stroke-width="2.2" stroke-linecap="round"/>
<line x1="790.6" y1="1190.4" x2="809.2" y2="1190.4" stroke="#000" stroke-width="2.2" stroke-linecap="round"/>
<line x1="856.9" y1="922" x2="856.9" y2="902.1" stroke="#000" stroke-width="2.2" stroke-linecap="round"/>
<line x1="847.6" y1="902.1" x2="866.2" y2="902.1" stroke="#000" stroke-width="2.2" stroke-linecap="round"/>
<line x1="913.95" y1="918" x2="913.95" y2="896.7" stroke="#000" stroke-width="2.2" stroke-linecap="round"/>
<line x1="904.65" y1="896.7" x2="923.25" y2="896.7" stroke="#000" stroke-width="2.2" stroke-linecap="round"/>
<circle cx="742.7" cy="1081.2" r="4.8" fill="#000"/>
<circle cx="735.5" cy="1113.7" r="4.8" fill="#000"/>
<circle cx="749.9" cy="1109.2" r="4.8" fill="#000"/>
<circle cx="787.9" cy="1192.8" r="4.8" fill="#000"/>
<circle cx="812.8" cy="1193.5" r="4.8" fill="#000"/>
<circle cx="799.6" cy="1203.6" r="4.8" fill="#000"/>
<circle cx="856.4" cy="899.4" r="4.8" fill="#000"/>
<circle cx="849.7" cy="937.8" r="4.8" fill="#000"/>
<circle cx="863.6" cy="929.2" r="4.8" fill="#000"/>
<circle cx="913.7" cy="898.1" r="4.8" fill="#000"/>
<circle cx="913.7" cy="915.1" r="4.8" fill="#000"/>
<circle cx="913.7" cy="940.3" r="4.8" fill="#000"/>
<text class="st" transform="translate(795.15 1186.78) scale(1 0.97)" x="0" y="0" font-size="24.5" letter-spacing="1.37">*</text>
<text class="st" transform="translate(846.7 895.58) scale(1 0.97)" x="0" y="0" font-size="24.5" letter-spacing="1.37">**</text>
<text class="st" transform="translate(903.75 892.42) scale(1 0.97)" x="0" y="0" font-size="24.5" letter-spacing="1.37">**</text>
<text transform="translate(701.13 1254.9) scale(1 1.03)" font-size="29.2" text-anchor="end">pCDH-EV</text>
<text x="733.62" y="1258.85" font-size="30.5" class="na">+</text>
<text x="790.83" y="1258.85" font-size="30.5" class="na">+</text>
<text x="847.83" y="1258.72" font-size="30.5" class="na">−</text>
<text x="904.52" y="1258.72" font-size="30.5" class="na">−</text>
<text transform="translate(701.13 1288.5) scale(1 1.03)" font-size="29.2" text-anchor="end">pCDH-SEMA3C</text>
<text x="733.62" y="1292.42" font-size="30.5" class="na">−</text>
<text x="790.83" y="1292.42" font-size="30.5" class="na">−</text>
<text x="847.83" y="1292.55" font-size="30.5" class="na">+</text>
<text x="904.52" y="1292.55" font-size="30.5" class="na">+</text>
<text transform="translate(701.13 1322.2) scale(1 1.02)" font-size="29.2" text-anchor="end">Control ASO</text>
<text x="733.62" y="1326.15" font-size="30.5" class="na">+</text>
<text x="790.83" y="1326.03" font-size="30.5" class="na">−</text>
<text x="847.83" y="1326.15" font-size="30.5" class="na">+</text>
<text x="904.52" y="1326.03" font-size="30.5" class="na">−</text>
<text transform="translate(701.13 1355.8) scale(1 1.03)" font-size="29.2" text-anchor="end">LETR1-ASO2</text>
<text x="733.62" y="1359.72" font-size="30.5" class="na">−</text>
<text x="790.83" y="1359.85" font-size="30.5" class="na">+</text>
<text x="847.83" y="1359.72" font-size="30.5" class="na">−</text>
<text x="904.52" y="1359.85" font-size="30.5" class="na">+</text>
<text transform="translate(774.73 1384) scale(1 1.03)" font-size="24.4">96%</text>
<text transform="translate(888.67 1384) scale(1 1.03)" font-size="24.4">93%</text>
<text transform="translate(1043.2 773.8) scale(1 1.02)" font-size="32.9">Wound closure assay + Mit C (9h)</text>
<text transform="translate(1004.8 814.6) scale(1 1.03)" font-size="33.1">after SEMA3C-OE and LETR1-ASOKD</text>
<line x1="1132.8" y1="836.3" x2="1132.8" y2="1209.9" stroke="#000" stroke-width="2.4"/>
<line x1="1121.7" y1="1208.9" x2="1503.5" y2="1208.9" stroke="#000" stroke-width="2.4"/>
<line x1="1121.9" y1="1208.9" x2="1132.8" y2="1208.9" stroke="#000" stroke-width="2.4"/>
<text transform="translate(1116.51 1220.2) scale(1 1.03)" font-size="29" text-anchor="end">0</text>
<line x1="1121.9" y1="1175.21" x2="1132.8" y2="1175.21" stroke="#000" stroke-width="2.4"/>
<text transform="translate(1116.51 1186.51) scale(1 1.03)" font-size="29" text-anchor="end">5</text>
<line x1="1121.9" y1="1141.52" x2="1132.8" y2="1141.52" stroke="#000" stroke-width="2.4"/>
<text transform="translate(1116.51 1152.82) scale(1 1.03)" font-size="29" text-anchor="end">10</text>
<line x1="1121.9" y1="1107.83" x2="1132.8" y2="1107.83" stroke="#000" stroke-width="2.4"/>
<text transform="translate(1116.51 1119.13) scale(1 1.03)" font-size="29" text-anchor="end">15</text>
<line x1="1121.9" y1="1074.14" x2="1132.8" y2="1074.14" stroke="#000" stroke-width="2.4"/>
<text transform="translate(1116.51 1085.44) scale(1 1.03)" font-size="29" text-anchor="end">20</text>
<line x1="1121.9" y1="1040.45" x2="1132.8" y2="1040.45" stroke="#000" stroke-width="2.4"/>
<text transform="translate(1116.51 1051.75) scale(1 1.03)" font-size="29" text-anchor="end">25</text>
<line x1="1121.9" y1="1006.76" x2="1132.8" y2="1006.76" stroke="#000" stroke-width="2.4"/>
<text transform="translate(1116.51 1018.06) scale(1 1.03)" font-size="29" text-anchor="end">30</text>
<line x1="1121.9" y1="973.07" x2="1132.8" y2="973.07" stroke="#000" stroke-width="2.4"/>
<text transform="translate(1116.51 984.37) scale(1 1.03)" font-size="29" text-anchor="end">35</text>
<line x1="1121.9" y1="939.38" x2="1132.8" y2="939.38" stroke="#000" stroke-width="2.4"/>
<text transform="translate(1116.51 950.68) scale(1 1.03)" font-size="29" text-anchor="end">40</text>
<line x1="1121.9" y1="905.69" x2="1132.8" y2="905.69" stroke="#000" stroke-width="2.4"/>
<text transform="translate(1116.51 916.99) scale(1 1.03)" font-size="29" text-anchor="end">45</text>
<line x1="1121.9" y1="872" x2="1132.8" y2="872" stroke="#000" stroke-width="2.4"/>
<text transform="translate(1116.51 883.3) scale(1 1.03)" font-size="29" text-anchor="end">50</text>
<line x1="1121.9" y1="838.31" x2="1132.8" y2="838.31" stroke="#000" stroke-width="2.4"/>
<text transform="translate(1116.51 849.61) scale(1 1.03)" font-size="29" text-anchor="end">55</text>
<text transform="translate(1069.8 1128.95) rotate(-90) scale(1 1.02)" x="0" y="0" font-size="28.6">% Wound closure</text>
<line x1="1190.2" y1="1208.9" x2="1190.2" y2="1219.1" stroke="#000" stroke-width="2.4"/>
<text transform="translate(1182.2 1249.9) scale(1 1.03)" font-size="29">0</text>
<line x1="1275.61" y1="1208.9" x2="1275.61" y2="1219.1" stroke="#000" stroke-width="2.4"/>
<text transform="translate(1267.49 1249.9) scale(1 1.03)" font-size="29">3</text>
<line x1="1361.02" y1="1208.9" x2="1361.02" y2="1219.1" stroke="#000" stroke-width="2.4"/>
<text transform="translate(1352.77 1249.9) scale(1 1.03)" font-size="29">6</text>
<line x1="1446.43" y1="1208.9" x2="1446.43" y2="1219.1" stroke="#000" stroke-width="2.4"/>
<text transform="translate(1438.43 1249.9) scale(1 1.03)" font-size="29">9</text>
<text transform="translate(1267.95 1293.6) scale(1 1.02)" font-size="28.3">Time (h)</text>
<polyline points="1190.2,1208.9 1275.61,1192.19 1361.02,1161.94 1446.43,1128.72" fill="none" stroke="#000" stroke-width="2.5" stroke-dasharray="2.4 9.6" stroke-linecap="round"/>
<polyline points="1190.2,1208.9 1275.61,1148.66 1361.02,1102.57 1446.43,1035.33" fill="none" stroke="#000" stroke-width="2.5" stroke-dasharray="2.4 9.6" stroke-linecap="round"/>
<polyline points="1190.2,1208.9 1275.61,1108.5 1361.02,987.89 1446.43,876.72" fill="none" stroke="#000" stroke-width="2.6"/>
<polyline points="1190.2,1208.9 1275.61,1106.48 1361.02,998 1446.43,884.8" fill="none" stroke="#000" stroke-width="2.6"/>
<line x1="1275.61" y1="1108.5" x2="1275.61" y2="1095.03" stroke="#000" stroke-width="2" stroke-linecap="round"/>
<line x1="1269.11" y1="1095.03" x2="1282.11" y2="1095.03" stroke="#000" stroke-width="2" stroke-linecap="round"/>
<line x1="1361.02" y1="987.89" x2="1361.02" y2="955.55" stroke="#000" stroke-width="2" stroke-linecap="round"/>
<line x1="1354.52" y1="955.55" x2="1367.52" y2="955.55" stroke="#000" stroke-width="2" stroke-linecap="round"/>
<line x1="1446.43" y1="876.72" x2="1446.43" y2="850.44" stroke="#000" stroke-width="2" stroke-linecap="round"/>
<line x1="1439.93" y1="850.44" x2="1452.93" y2="850.44" stroke="#000" stroke-width="2" stroke-linecap="round"/>
<rect x="1269.31" y="1102.2" width="12.6" height="12.6" fill="#000"/>
<rect x="1354.72" y="981.59" width="12.6" height="12.6" fill="#000"/>
<rect x="1440.13" y="870.42" width="12.6" height="12.6" fill="#000"/>
<line x1="1275.61" y1="1192.19" x2="1275.61" y2="1180.6" stroke="#000" stroke-width="2" stroke-linecap="round"/>
<line x1="1269.11" y1="1180.6" x2="1282.11" y2="1180.6" stroke="#000" stroke-width="2" stroke-linecap="round"/>
<line x1="1361.02" y1="1161.94" x2="1361.02" y2="1143.54" stroke="#000" stroke-width="2" stroke-linecap="round"/>
<line x1="1354.52" y1="1143.54" x2="1367.52" y2="1143.54" stroke="#000" stroke-width="2" stroke-linecap="round"/>
<line x1="1446.43" y1="1128.72" x2="1446.43" y2="1107.83" stroke="#000" stroke-width="2" stroke-linecap="round"/>
<line x1="1439.93" y1="1107.83" x2="1452.93" y2="1107.83" stroke="#000" stroke-width="2" stroke-linecap="round"/>
<path d="M1275.61 1186.69 L1281.91 1199.19 L1269.31 1199.19 Z" fill="#000"/>
<path d="M1361.02 1156.44 L1367.32 1168.94 L1354.72 1168.94 Z" fill="#000"/>
<path d="M1446.43 1123.22 L1452.73 1135.72 L1440.13 1135.72 Z" fill="#000"/>
<line x1="1275.61" y1="1106.48" x2="1275.61" y2="1086.94" stroke="#876ad8" stroke-width="2" stroke-linecap="round"/>
<line x1="1269.11" y1="1086.94" x2="1282.11" y2="1086.94" stroke="#876ad8" stroke-width="2" stroke-linecap="round"/>
<line x1="1361.02" y1="998" x2="1361.02" y2="964.98" stroke="#876ad8" stroke-width="2" stroke-linecap="round"/>
<line x1="1354.52" y1="964.98" x2="1367.52" y2="964.98" stroke="#876ad8" stroke-width="2" stroke-linecap="round"/>
<line x1="1446.43" y1="884.8" x2="1446.43" y2="853.81" stroke="#876ad8" stroke-width="2" stroke-linecap="round"/>
<line x1="1439.93" y1="853.81" x2="1452.93" y2="853.81" stroke="#876ad8" stroke-width="2" stroke-linecap="round"/>
<rect x="1183.9" y="1202.6" width="12.6" height="12.6" fill="#876ad8"/>
<rect x="1269.31" y="1100.18" width="12.6" height="12.6" fill="#876ad8"/>
<rect x="1354.72" y="991.7" width="12.6" height="12.6" fill="#876ad8"/>
<rect x="1440.13" y="878.5" width="12.6" height="12.6" fill="#876ad8"/>
<line x1="1275.61" y1="1148.66" x2="1275.61" y2="1137.48" stroke="#876ad8" stroke-width="2" stroke-linecap="round"/>
<line x1="1269.11" y1="1137.48" x2="1282.11" y2="1137.48" stroke="#876ad8" stroke-width="2" stroke-linecap="round"/>
<line x1="1361.02" y1="1102.57" x2="1361.02" y2="1083.57" stroke="#876ad8" stroke-width="2" stroke-linecap="round"/>
<line x1="1354.52" y1="1083.57" x2="1367.52" y2="1083.57" stroke="#876ad8" stroke-width="2" stroke-linecap="round"/>
<line x1="1446.43" y1="1035.33" x2="1446.43" y2="1015.52" stroke="#876ad8" stroke-width="2" stroke-linecap="round"/>
<line x1="1439.93" y1="1015.52" x2="1452.93" y2="1015.52" stroke="#876ad8" stroke-width="2" stroke-linecap="round"/>
<path d="M1275.61 1143.16 L1281.91 1155.66 L1269.31 1155.66 Z" fill="#876ad8"/>
<path d="M1361.02 1097.07 L1367.32 1109.57 L1354.72 1109.57 Z" fill="#876ad8"/>
<path d="M1446.43 1029.83 L1452.73 1042.33 L1440.13 1042.33 Z" fill="#876ad8"/>
<line x1="1465.7" y1="1033.8" x2="1465.7" y2="1127.7" stroke="#000" stroke-width="2.4"/>
<line x1="1490.6" y1="884.6" x2="1490.6" y2="1127.7" stroke="#000" stroke-width="2.4"/>
<line x1="1516.2" y1="876" x2="1516.2" y2="1127.7" stroke="#000" stroke-width="2.4"/>
<text class="st" transform="translate(1465.88 1060.35) rotate(90) scale(1 0.97)" x="0" y="0" font-size="24.5" letter-spacing="1.37">****</text>
<text class="st" transform="translate(1491.08 985.35) rotate(90) scale(1 0.97)" x="0" y="0" font-size="24.5" letter-spacing="1.37">****</text>
<text class="st" transform="translate(1516.47 981.05) rotate(90) scale(1 0.97)" x="0" y="0" font-size="24.5" letter-spacing="1.37">****</text>
<line x1="1557.2" y1="837.2" x2="1590.6" y2="837.2" stroke="#000" stroke-width="2.4" stroke-linecap="round"/>
<rect x="1567.45" y="830.9" width="12.6" height="12.6" fill="#000"/>
<text transform="translate(1608.75 848.9) scale(1 1.02)" font-size="28.5">pCDH-EV - Control</text>
<line x1="1557.3" y1="871.1" x2="1592" y2="871.1" stroke="#000" stroke-width="2.4" stroke-dasharray="0.6 10.2" stroke-linecap="round"/>
<path d="M1573.75 865.6 L1580.05 878.1 L1567.45 878.1 Z" fill="#000"/>
<text transform="translate(1608.75 883.2) scale(1 1.03)" font-size="28.5">pCDH-EV - ASO2 (98%)</text>
<line x1="1557.2" y1="905.4" x2="1590.6" y2="905.4" stroke="#000" stroke-width="2.4" stroke-linecap="round"/>
<rect x="1567.45" y="899.1" width="12.6" height="12.6" fill="#876ad8"/>
<text transform="translate(1608.75 916.8) scale(1 1.03)" font-size="28.5">pCDH-SEMA3C - Control</text>
<line x1="1557.3" y1="939.7" x2="1592" y2="939.7" stroke="#000" stroke-width="2.4" stroke-dasharray="0.6 10.2" stroke-linecap="round"/>
<path d="M1573.75 934.2 L1580.05 946.7 L1567.45 946.7 Z" fill="#876ad8"/>
<text transform="translate(1608.75 951.2) scale(1 1.03)" font-size="28.5">pCDH-SEMA3C - ASO2 (97%)</text>
</svg>
</body></html>
